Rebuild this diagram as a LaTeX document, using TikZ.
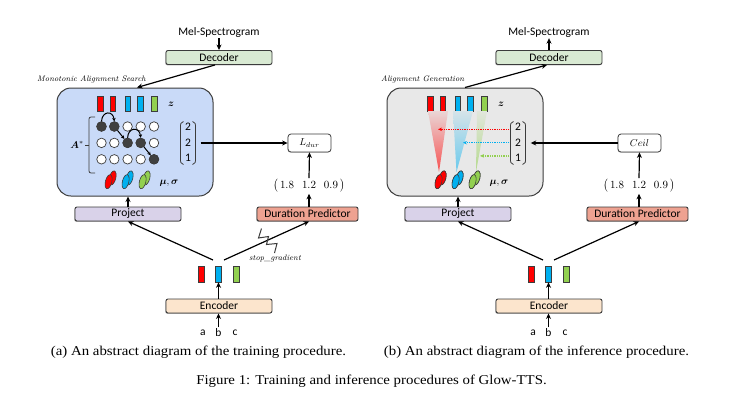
\documentclass[tikz,border=0pt]{standalone}
\usepackage{amsmath}
\usepackage{bm}
\usepackage{fontspec}
\newfontfamily\sansc{Carlito}
\newfontfamily\capfont{Liberation Serif}
\usetikzlibrary{arrows.meta,shadows}
\definecolor{boxline}{HTML}{3C3C3C}
\definecolor{decfill}{HTML}{D9EAD3}
\definecolor{projfill}{HTML}{D9D2E9}
\definecolor{durfill}{HTML}{EEA291}
\definecolor{encfill}{HTML}{FCE5CD}
\definecolor{bluefill}{HTML}{C9DAF8}
\definecolor{grayfill}{HTML}{E8E8E8}
\definecolor{cred}{HTML}{FF0000}
\definecolor{cblue}{HTML}{00B0F0}
\definecolor{cgreen}{HTML}{92D050}
\definecolor{dotgray}{HTML}{404040}
\tikzset{
  box/.style={draw=boxline, line width=0.9pt, rounded corners=2pt, minimum height=14pt, inner sep=0pt,
    font=\sansc\fontsize{11.5}{13}\selectfont,
    drop shadow={shadow xshift=-0.7pt, shadow yshift=-0.8pt, opacity=0.45, fill=black!70}},
  bigbox/.style={draw=boxline, line width=1pt, rounded corners=14pt, minimum width=156pt, minimum height=108pt, inner sep=0pt},
  smallbox/.style={draw=boxline, line width=0.8pt, rounded corners=3pt, fill=white, minimum width=43pt, minimum height=18pt, inner sep=0pt,
    drop shadow={shadow xshift=-0.5pt, shadow yshift=-0.6pt, opacity=0.4, fill=black!70}},
  arr/.style={-{Stealth[length=5.5pt,width=5pt]}, line width=1.2pt, black},
  garr/.style={-{Stealth[length=3.5pt,width=3.5pt]}, line width=1pt, black},
  dotarr/.style={-{Stealth[length=4pt,width=3.5pt]}, line width=1.3pt, densely dotted},
  paren/.style={line width=0.8pt, boxline},
  bar/.style={draw=boxline, line width=0.6pt, minimum width=5.5pt, minimum height=15pt, inner sep=0pt},
  ebar/.style={draw=boxline, line width=0.6pt, minimum width=6pt, minimum height=16pt, inner sep=0pt},
  circ/.style={circle, draw=boxline, line width=0.7pt, minimum size=9.5pt, inner sep=0pt, fill=white},
  fcirc/.style={circ, fill=dotgray},
  lab/.style={font=\itshape\fontsize{8}{9}\selectfont, inner sep=0pt},
  txt/.style={font=\sansc\fontsize{11.5}{13}\selectfont, inner sep=1pt},
  captxt/.style={font=\capfont\fontsize{13.5}{15}\selectfont, inner sep=0pt},
}
\newcommand{\epair}[3]{%
  \filldraw[fill=#3, draw=boxline, line width=0.6pt, rotate around={-14:(#1+2.6,#2-2.6)}] (#1+2.6,#2-2.6) ellipse (3.2pt and 7.2pt);
  \filldraw[fill=#3, draw=boxline, line width=0.6pt, rotate around={-14:(#1-1.4,#2+1.2)}] (#1-1.4,#2+1.2) ellipse (3.2pt and 7.2pt);
}
\newcommand{\panelcommon}[1]{%
  \node[txt] (mel) at (219,32) {Mel-Spectrogram};
  \node[box, fill=decfill, minimum width=106pt] (dec) at (219,57.5) {Decoder};
  \node[bigbox, fill=#1] (main) at (135,142) {};
  \foreach \x/\c [count=\i] in {100.5/cred,113/cred,128/cblue,140.5/cblue,154.5/cgreen}
    \node[bar, fill=\c] (z\i) at (\x,103.5) {};
  \node (zl) at (171,104) {$\boldsymbol{z}$};
  \node[font=\sansc\fontsize{11.5}{13}\selectfont, inner sep=0pt, minimum width=17pt, minimum height=46pt] (vec) at (188,143)
    {\renewcommand{\arraystretch}{1.2}\begin{tabular}{@{}c@{}}2\\2\\1\end{tabular}};
  \draw[paren] (183.5,121.5) .. controls (180.5,123) .. (180.5,128) -- (180.5,158) .. controls (180.5,163) .. (183.5,164.5);
  \draw[paren] (192.5,121.5) .. controls (195.5,123) .. (195.5,128) -- (195.5,158) .. controls (195.5,163) .. (192.5,164.5);
  \epair{110}{180.5}{cred}
  \epair{127}{180.5}{cblue}
  \epair{144}{180.5}{cgreen}
  \node (ms) at (169,183) {$\boldsymbol{\mu},\boldsymbol{\sigma}$};
  \node[box, fill=projfill, minimum width=106pt] (proj) at (128,214) {Project};
  \node[box, fill=durfill, minimum width=101pt] (dp) at (307.5,214) {Duration Predictor};
  \node[inner sep=1pt, font=\fontsize{10.5}{12}\selectfont] (dv) at (309,186)
    {$\bigl(\,1.8\hspace{8pt}1.2\hspace{8pt}0.9\,\bigr)$};
  \draw[arr] (proj.north) -- (proj.north |- main.south);
  \draw[arr] (dp.north -| dv.south) -- (dv.south);
  \node[ebar, fill=cred] (e1) at (201.5,274) {};
  \node[ebar, fill=cblue] (e2) at (218.5,274) {};
  \node[ebar, fill=cgreen] (e3) at (236,274) {};
  \coordinate (eL) at (213,260);
  \coordinate (eR) at (224,260);
  \draw[arr] (eL) -- (proj.south);
  \draw[arr] (eR) -- (dp.south -| dv.south);
  \node[box, fill=encfill, minimum width=106pt] (enc) at (219,306) {Encoder};
  \draw[arr] (enc.north -| e2.south) -- (e2.south);
  \node[txt] (ia) at (203,332.5) {a};
  \node[txt] (ib) at (218.5,332.5) {b};
  \node[txt] (ic) at (235,332.5) {c};
  \draw[arr] (ib.north) -- (enc.south -| ib.north);
}
\begin{document}
\begin{tikzpicture}[x=1pt,y=-1pt]
\useasboundingbox[fill=white] (0,0) rectangle (734,405);

% ---------------- left panel ----------------
\begin{scope}[name prefix=L-]
  \panelcommon{bluefill}
\end{scope}
\draw[arr] (L-mel.south) -- (L-dec.north);
\draw[arr] ([xshift=-4pt]L-dec.south) -- ([xshift=2pt]L-main.north);
\node[lab, anchor=west] (L-mas) at (37,79) {Monotonic Alignment Search};
% grid
\foreach \i/\y in {1/126.5,2/142.9,3/159.3}
  \foreach \j/\x in {1/101.5,2/114.3,3/127.6,4/140.7,5/154}
    \node[circ] (g\i\j) at (\x,\y) {};
\node[fcirc] at (g11) {};
\node[fcirc] at (g12) {};
\node[fcirc] at (g23) {};
\node[fcirc] at (g24) {};
\node[fcirc] at (g35) {};
\draw[garr] (g11.north) .. controls (102,111) and (113,110) .. (g12.north);
\draw[garr] (g12) -- (g23);
\draw[garr] (g23.north) .. controls (128,127) and (139.5,126.5) .. (g24.north);
\draw[garr] (g24) -- (g35);
% brace and A*
\coordinate (brT) at (95,117);
\coordinate (brB) at (95,173);
\draw[line width=0.8pt, boxline, rounded corners=2pt] (brT) -- (89,117) -- (89,173) -- (brB);
\draw[line width=0.8pt, boxline] (89,145) -- (85,145);
\node (Astar) at (77,145) {$\boldsymbol{A}^{*}$};
\node[smallbox] (ldur) at (309.5,143) {$L_{dur}$};
\draw[arr] ([xshift=4pt]L-vec.east) -- (ldur.west);
\draw[arr] (L-dv.north) -- (ldur.south);
% stop gradient
\draw[line width=1pt, boxline, line join=miter] (261.5,228.5) -- (258.5,238) -- (268.5,236.5) -- (266.5,244.5) -- (277,243.5) -- (274.5,253);
\node[lab] (sg) at (275,258.5) {stop\_gradient};

% ---------------- right panel ----------------
\begin{scope}[shift={(330,0)}, name prefix=R-]
  \panelcommon{grayfill}
\end{scope}
\draw[arr] (R-dec.north) -- (R-mel.south);
\draw[arr] (R-main.north) -- ([xshift=-2pt]R-dec.south);
\node[lab, anchor=west] (R-ag) at (381,79) {Alignment Generation};
% cones
\shade[top color=cred!8!grayfill, bottom color=cred!65!grayfill] (428,111) -- (448,111) -- (439,172) -- cycle;
\shade[top color=cblue!8!grayfill, bottom color=cblue!55!grayfill] (453,111) -- (473,111) -- (456.5,172) -- cycle;
\shade[top color=cgreen!8!grayfill, bottom color=cgreen!60!grayfill] (477,111) -- (487,111) -- (476,172) -- cycle;
\epair{440}{180.5}{cred}
\epair{457}{180.5}{cblue}
\epair{474}{180.5}{cgreen}
\coordinate (tr) at (438,129.3);
\coordinate (tb) at (463,142.7);
\coordinate (tg) at (480,155.9);
\draw[dotarr, cred] (R-vec.west |- tr) -- (tr);
\draw[dotarr, cblue] (R-vec.west |- tb) -- (tb);
\draw[dotarr, cgreen] (R-vec.west |- tg) -- (tg);
\node[smallbox] (ceil) at (639.5,143) {$Ceil$};
\draw[arr] (ceil.west) -- ([xshift=4pt]R-vec.east);
\draw[arr] (R-dv.north) -- (ceil.south);

% ---------------- captions ----------------
\node[captxt] (capa) at (198.5,352) {\scalebox{1.1}[1]{(a) An abstract diagram of the training procedure.}};
\node[captxt] (capb) at (536.5,352) {\scalebox{1.1}[1]{(b) An abstract diagram of the inference procedure.}};
\node[captxt] (capf) at (371.5,381) {\scalebox{1.1}[1]{Figure 1: Training and inference procedures of Glow-TTS.}};
\end{tikzpicture}
\end{document}
